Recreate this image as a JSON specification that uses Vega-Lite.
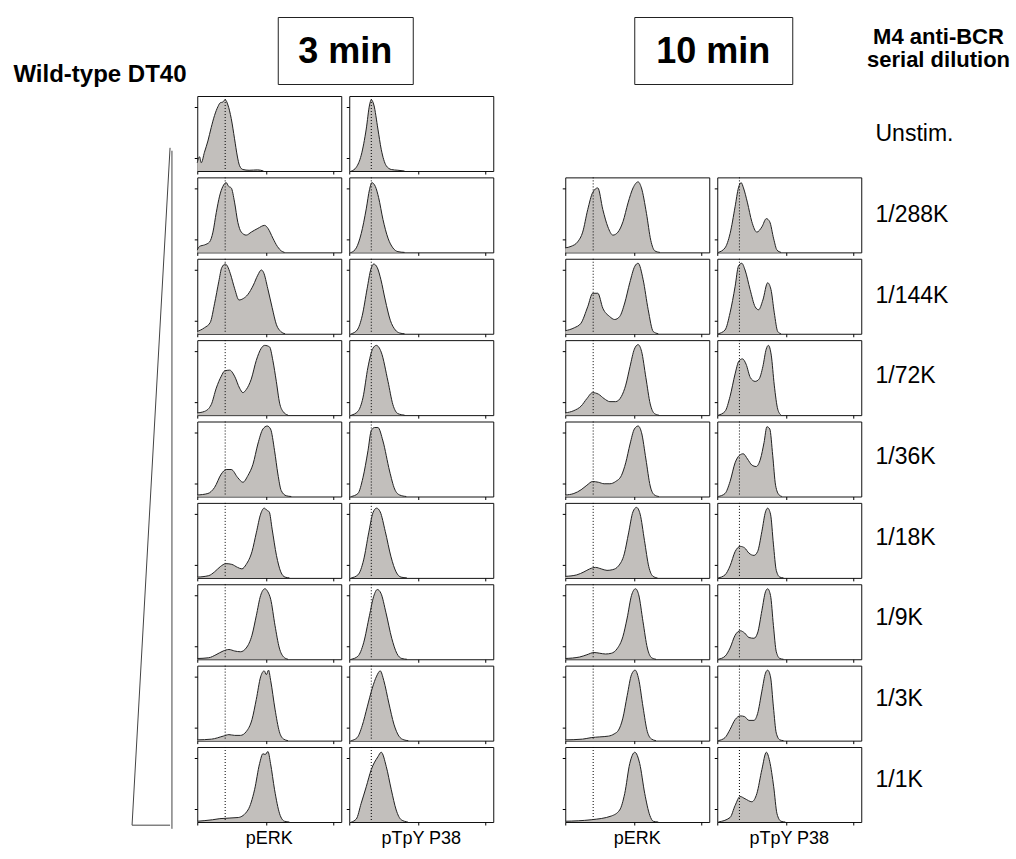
{
"$schema":"https://vega.github.io/schema/vega-lite/v6.json",
"background":"white",
"padding":{"left":0,"top":16,"right":0,"bottom":0},
"spacing":3,
"config":{"view":{"stroke":null},"font":"Liberation Sans","axis":{"grid":false,"labels":false,"title":null,"domain":false,"ticks":true,"tickSize":3,"tickColor":"#000","tickWidth":1},"header":{"labelFont":"Liberation Sans"}},
"datasets":{
"panels":[
{"p":"3E1","time":"3 min","marker":"pERK","dose":"Unstim.","ref":19.4},
{"p":"3E2","time":"3 min","marker":"pERK","dose":"1/288K","ref":19.4},
{"p":"3E3","time":"3 min","marker":"pERK","dose":"1/144K","ref":19.4},
{"p":"3E4","time":"3 min","marker":"pERK","dose":"1/72K","ref":19.4},
{"p":"3E5","time":"3 min","marker":"pERK","dose":"1/36K","ref":19.4},
{"p":"3E6","time":"3 min","marker":"pERK","dose":"1/18K","ref":19.4},
{"p":"3E7","time":"3 min","marker":"pERK","dose":"1/9K","ref":19.4},
{"p":"3E8","time":"3 min","marker":"pERK","dose":"1/3K","ref":19.4},
{"p":"3E9","time":"3 min","marker":"pERK","dose":"1/1K","ref":19.4},
{"p":"3P1","time":"3 min","marker":"pTpY P38","dose":"Unstim.","ref":15.3},
{"p":"3P2","time":"3 min","marker":"pTpY P38","dose":"1/288K","ref":15.3},
{"p":"3P3","time":"3 min","marker":"pTpY P38","dose":"1/144K","ref":15.3},
{"p":"3P4","time":"3 min","marker":"pTpY P38","dose":"1/72K","ref":15.3},
{"p":"3P5","time":"3 min","marker":"pTpY P38","dose":"1/36K","ref":15.3},
{"p":"3P6","time":"3 min","marker":"pTpY P38","dose":"1/18K","ref":15.3},
{"p":"3P7","time":"3 min","marker":"pTpY P38","dose":"1/9K","ref":15.3},
{"p":"3P8","time":"3 min","marker":"pTpY P38","dose":"1/3K","ref":15.3},
{"p":"3P9","time":"3 min","marker":"pTpY P38","dose":"1/1K","ref":15.3},
{"p":"10E2","time":"10 min","marker":"pERK","dose":"1/288K","ref":19.4},
{"p":"10E3","time":"10 min","marker":"pERK","dose":"1/144K","ref":19.4},
{"p":"10E4","time":"10 min","marker":"pERK","dose":"1/72K","ref":19.4},
{"p":"10E5","time":"10 min","marker":"pERK","dose":"1/36K","ref":19.4},
{"p":"10E6","time":"10 min","marker":"pERK","dose":"1/18K","ref":19.4},
{"p":"10E7","time":"10 min","marker":"pERK","dose":"1/9K","ref":19.4},
{"p":"10E8","time":"10 min","marker":"pERK","dose":"1/3K","ref":19.4},
{"p":"10E9","time":"10 min","marker":"pERK","dose":"1/1K","ref":19.4},
{"p":"10P2","time":"10 min","marker":"pTpY P38","dose":"1/288K","ref":15.4},
{"p":"10P3","time":"10 min","marker":"pTpY P38","dose":"1/144K","ref":15.4},
{"p":"10P4","time":"10 min","marker":"pTpY P38","dose":"1/72K","ref":15.4},
{"p":"10P5","time":"10 min","marker":"pTpY P38","dose":"1/36K","ref":15.4},
{"p":"10P6","time":"10 min","marker":"pTpY P38","dose":"1/18K","ref":15.4},
{"p":"10P7","time":"10 min","marker":"pTpY P38","dose":"1/9K","ref":15.4},
{"p":"10P8","time":"10 min","marker":"pTpY P38","dose":"1/3K","ref":15.4},
{"p":"10P9","time":"10 min","marker":"pTpY P38","dose":"1/1K","ref":15.4}
],
"curves":[
{"p":"3E1","x":0,"y":11},{"p":"3E1","x":1.6,"y":19},{"p":"3E1","x":2.8,"y":11},{"p":"3E1","x":5,"y":25},{"p":"3E1","x":7.4,"y":40},{"p":"3E1","x":9.7,"y":58},{"p":"3E1","x":12,"y":74},{"p":"3E1","x":14.4,"y":86},{"p":"3E1","x":16,"y":91},{"p":"3E1","x":17.8,"y":92},{"p":"3E1","x":19.4,"y":95},{"p":"3E1","x":21.3,"y":88},{"p":"3E1","x":23.6,"y":70},{"p":"3E1","x":25.9,"y":43},{"p":"3E1","x":27.8,"y":20},{"p":"3E1","x":29.4,"y":7},{"p":"3E1","x":31.7,"y":2},{"p":"3E1","x":36,"y":1},{"p":"3E1","x":42,"y":1.5},{"p":"3E1","x":46,"y":0},
{"p":"3E2","x":0,"y":3},{"p":"3E2","x":1.6,"y":8},{"p":"3E2","x":5.1,"y":10},{"p":"3E2","x":8.6,"y":14},{"p":"3E2","x":10.9,"y":27},{"p":"3E2","x":13.2,"y":53},{"p":"3E2","x":15.5,"y":75},{"p":"3E2","x":17.8,"y":88},{"p":"3E2","x":20.1,"y":93},{"p":"3E2","x":21.8,"y":88},{"p":"3E2","x":23.6,"y":86},{"p":"3E2","x":25.9,"y":67},{"p":"3E2","x":28.2,"y":40},{"p":"3E2","x":30.6,"y":27},{"p":"3E2","x":34,"y":23},{"p":"3E2","x":37.5,"y":27},{"p":"3E2","x":42.1,"y":32},{"p":"3E2","x":46.8,"y":36},{"p":"3E2","x":49.1,"y":32},{"p":"3E2","x":52.5,"y":19},{"p":"3E2","x":55.6,"y":8},{"p":"3E2","x":58.3,"y":2},{"p":"3E2","x":60.6,"y":0},
{"p":"3E3","x":0,"y":3},{"p":"3E3","x":5,"y":8},{"p":"3E3","x":9,"y":15},{"p":"3E3","x":12,"y":40},{"p":"3E3","x":15,"y":70},{"p":"3E3","x":17,"y":88},{"p":"3E3","x":19.5,"y":93},{"p":"3E3","x":21,"y":90},{"p":"3E3","x":23,"y":80},{"p":"3E3","x":26,"y":60},{"p":"3E3","x":29,"y":45},{"p":"3E3","x":32,"y":47},{"p":"3E3","x":35,"y":52},{"p":"3E3","x":39,"y":65},{"p":"3E3","x":42,"y":78},{"p":"3E3","x":44.5,"y":85},{"p":"3E3","x":46,"y":82},{"p":"3E3","x":49,"y":60},{"p":"3E3","x":52,"y":35},{"p":"3E3","x":55,"y":12},{"p":"3E3","x":58,"y":3},{"p":"3E3","x":61,"y":0},
{"p":"3E4","x":0,"y":3},{"p":"3E4","x":5.1,"y":5},{"p":"3E4","x":9.7,"y":14},{"p":"3E4","x":13.2,"y":36},{"p":"3E4","x":16.7,"y":52},{"p":"3E4","x":19,"y":59},{"p":"3E4","x":22.5,"y":60},{"p":"3E4","x":25.9,"y":52},{"p":"3E4","x":29.4,"y":36},{"p":"3E4","x":31.7,"y":30},{"p":"3E4","x":34,"y":34},{"p":"3E4","x":37.5,"y":48},{"p":"3E4","x":41,"y":73},{"p":"3E4","x":44.4,"y":89},{"p":"3E4","x":46.8,"y":93},{"p":"3E4","x":50.2,"y":91},{"p":"3E4","x":52.5,"y":73},{"p":"3E4","x":54.9,"y":45},{"p":"3E4","x":57.2,"y":16},{"p":"3E4","x":59.5,"y":5},{"p":"3E4","x":63,"y":0},
{"p":"3E5","x":0,"y":2},{"p":"3E5","x":7.4,"y":4},{"p":"3E5","x":12,"y":12},{"p":"3E5","x":16.7,"y":30},{"p":"3E5","x":20.1,"y":36},{"p":"3E5","x":23.6,"y":36},{"p":"3E5","x":28.2,"y":25},{"p":"3E5","x":31.7,"y":19},{"p":"3E5","x":35.2,"y":28},{"p":"3E5","x":38.7,"y":43},{"p":"3E5","x":42.1,"y":70},{"p":"3E5","x":45.6,"y":90},{"p":"3E5","x":48.6,"y":94},{"p":"3E5","x":50.9,"y":90},{"p":"3E5","x":53.7,"y":61},{"p":"3E5","x":56,"y":30},{"p":"3E5","x":58.3,"y":8},{"p":"3E5","x":61.8,"y":1},{"p":"3E5","x":65.3,"y":0},
{"p":"3E6","x":0,"y":1},{"p":"3E6","x":8,"y":3},{"p":"3E6","x":12,"y":8},{"p":"3E6","x":16,"y":15},{"p":"3E6","x":20,"y":19},{"p":"3E6","x":24,"y":18},{"p":"3E6","x":28,"y":14},{"p":"3E6","x":31,"y":12},{"p":"3E6","x":34,"y":18},{"p":"3E6","x":38,"y":35},{"p":"3E6","x":41,"y":60},{"p":"3E6","x":44,"y":85},{"p":"3E6","x":46.5,"y":93},{"p":"3E6","x":48.5,"y":90},{"p":"3E6","x":50,"y":88},{"p":"3E6","x":52,"y":65},{"p":"3E6","x":55,"y":30},{"p":"3E6","x":58,"y":8},{"p":"3E6","x":61,"y":1},{"p":"3E6","x":64,"y":0},
{"p":"3E7","x":0,"y":1},{"p":"3E7","x":8,"y":2},{"p":"3E7","x":13,"y":6},{"p":"3E7","x":18,"y":11},{"p":"3E7","x":22,"y":13},{"p":"3E7","x":26,"y":11},{"p":"3E7","x":30,"y":10},{"p":"3E7","x":34,"y":15},{"p":"3E7","x":38,"y":32},{"p":"3E7","x":41,"y":58},{"p":"3E7","x":44,"y":85},{"p":"3E7","x":47,"y":94},{"p":"3E7","x":49,"y":90},{"p":"3E7","x":51,"y":80},{"p":"3E7","x":54,"y":45},{"p":"3E7","x":57,"y":15},{"p":"3E7","x":60,"y":3},{"p":"3E7","x":63,"y":0},
{"p":"3E8","x":0,"y":1},{"p":"3E8","x":10,"y":2},{"p":"3E8","x":18,"y":6},{"p":"3E8","x":22,"y":8},{"p":"3E8","x":26,"y":7},{"p":"3E8","x":30,"y":7},{"p":"3E8","x":34,"y":12},{"p":"3E8","x":38,"y":28},{"p":"3E8","x":41,"y":55},{"p":"3E8","x":44,"y":85},{"p":"3E8","x":46.5,"y":93},{"p":"3E8","x":48,"y":88},{"p":"3E8","x":49.5,"y":94},{"p":"3E8","x":51,"y":80},{"p":"3E8","x":54,"y":42},{"p":"3E8","x":57,"y":12},{"p":"3E8","x":60,"y":2},{"p":"3E8","x":63,"y":0},
{"p":"3E9","x":0,"y":1},{"p":"3E9","x":10.6,"y":3},{"p":"3E9","x":15.7,"y":4.5},{"p":"3E9","x":28.5,"y":6},{"p":"3E9","x":35.2,"y":16},{"p":"3E9","x":39.8,"y":43},{"p":"3E9","x":43.3,"y":78},{"p":"3E9","x":45.6,"y":91},{"p":"3E9","x":47.2,"y":90},{"p":"3E9","x":49.1,"y":94},{"p":"3E9","x":50.9,"y":78},{"p":"3E9","x":53.7,"y":43},{"p":"3E9","x":57.2,"y":11},{"p":"3E9","x":60.6,"y":1},{"p":"3E9","x":64,"y":0},
{"p":"3P1","x":1.4,"y":0},{"p":"3P1","x":4.9,"y":5},{"p":"3P1","x":8.3,"y":21},{"p":"3P1","x":11.8,"y":56},{"p":"3P1","x":14.1,"y":88},{"p":"3P1","x":15.3,"y":95},{"p":"3P1","x":17.1,"y":88},{"p":"3P1","x":19.9,"y":56},{"p":"3P1","x":22.2,"y":29},{"p":"3P1","x":25.7,"y":7},{"p":"3P1","x":29.2,"y":2},{"p":"3P1","x":33.8,"y":1},{"p":"3P1","x":38.4,"y":0},
{"p":"3P2","x":1.4,"y":0},{"p":"3P2","x":4.9,"y":6},{"p":"3P2","x":8.3,"y":25},{"p":"3P2","x":11.8,"y":58},{"p":"3P2","x":14.1,"y":84},{"p":"3P2","x":15.7,"y":93},{"p":"3P2","x":18.1,"y":88},{"p":"3P2","x":20.4,"y":73},{"p":"3P2","x":23.4,"y":44},{"p":"3P2","x":26.9,"y":19},{"p":"3P2","x":30.3,"y":6},{"p":"3P2","x":33.8,"y":1},{"p":"3P2","x":38.4,"y":0},
{"p":"3P3","x":1.4,"y":0},{"p":"3P3","x":5.5,"y":5},{"p":"3P3","x":9,"y":24},{"p":"3P3","x":12.4,"y":60},{"p":"3P3","x":15,"y":86},{"p":"3P3","x":17,"y":93},{"p":"3P3","x":19.5,"y":88},{"p":"3P3","x":22,"y":72},{"p":"3P3","x":25,"y":45},{"p":"3P3","x":28.5,"y":18},{"p":"3P3","x":32,"y":5},{"p":"3P3","x":35,"y":1},{"p":"3P3","x":38.4,"y":0},
{"p":"3P4","x":1.4,"y":0},{"p":"3P4","x":6,"y":5},{"p":"3P4","x":9.5,"y":23},{"p":"3P4","x":13,"y":64},{"p":"3P4","x":16.4,"y":89},{"p":"3P4","x":18.8,"y":93},{"p":"3P4","x":22.2,"y":84},{"p":"3P4","x":26.9,"y":45},{"p":"3P4","x":30.3,"y":14},{"p":"3P4","x":33.8,"y":2},{"p":"3P4","x":38.4,"y":0},
{"p":"3P5","x":1.4,"y":0},{"p":"3P5","x":6,"y":4},{"p":"3P5","x":9.5,"y":25},{"p":"3P5","x":13,"y":61},{"p":"3P5","x":15.3,"y":88},{"p":"3P5","x":17.6,"y":92},{"p":"3P5","x":19.9,"y":92},{"p":"3P5","x":23.4,"y":74},{"p":"3P5","x":28,"y":34},{"p":"3P5","x":31.5,"y":10},{"p":"3P5","x":35,"y":2},{"p":"3P5","x":39.6,"y":0},
{"p":"3P6","x":1.4,"y":0},{"p":"3P6","x":6,"y":4},{"p":"3P6","x":10,"y":24},{"p":"3P6","x":13.5,"y":60},{"p":"3P6","x":16.5,"y":87},{"p":"3P6","x":19,"y":93},{"p":"3P6","x":21.5,"y":88},{"p":"3P6","x":25,"y":62},{"p":"3P6","x":29,"y":28},{"p":"3P6","x":32.5,"y":8},{"p":"3P6","x":36,"y":1},{"p":"3P6","x":40,"y":0},
{"p":"3P7","x":1.4,"y":0},{"p":"3P7","x":6,"y":4},{"p":"3P7","x":10,"y":22},{"p":"3P7","x":14,"y":58},{"p":"3P7","x":17,"y":84},{"p":"3P7","x":19.5,"y":93},{"p":"3P7","x":22,"y":88},{"p":"3P7","x":25.5,"y":62},{"p":"3P7","x":29.5,"y":28},{"p":"3P7","x":33,"y":8},{"p":"3P7","x":36.5,"y":1},{"p":"3P7","x":40,"y":0},
{"p":"3P8","x":1.4,"y":0},{"p":"3P8","x":5.5,"y":4},{"p":"3P8","x":9,"y":20},{"p":"3P8","x":12.5,"y":45},{"p":"3P8","x":16,"y":70},{"p":"3P8","x":19,"y":86},{"p":"3P8","x":21.5,"y":93},{"p":"3P8","x":24,"y":80},{"p":"3P8","x":27.5,"y":50},{"p":"3P8","x":31,"y":22},{"p":"3P8","x":34.5,"y":6},{"p":"3P8","x":38,"y":1},{"p":"3P8","x":41,"y":0},
{"p":"3P9","x":1.4,"y":0},{"p":"3P9","x":4.9,"y":4},{"p":"3P9","x":8.3,"y":25},{"p":"3P9","x":11.8,"y":47},{"p":"3P9","x":15.3,"y":70},{"p":"3P9","x":19.9,"y":87},{"p":"3P9","x":22.2,"y":93},{"p":"3P9","x":25.7,"y":74},{"p":"3P9","x":29.2,"y":43},{"p":"3P9","x":32.6,"y":16},{"p":"3P9","x":36.1,"y":3},{"p":"3P9","x":40.7,"y":0},
{"p":"10E2","x":0,"y":6},{"p":"10E2","x":4,"y":8},{"p":"10E2","x":8.6,"y":14},{"p":"10E2","x":12.1,"y":27},{"p":"10E2","x":15.6,"y":57},{"p":"10E2","x":19.1,"y":80},{"p":"10E2","x":22.6,"y":86},{"p":"10E2","x":26.1,"y":57},{"p":"10E2","x":29.6,"y":34},{"p":"10E2","x":33.1,"y":23},{"p":"10E2","x":36.6,"y":27},{"p":"10E2","x":40.1,"y":41},{"p":"10E2","x":43.6,"y":66},{"p":"10E2","x":47.1,"y":86},{"p":"10E2","x":50.6,"y":94},{"p":"10E2","x":52.9,"y":86},{"p":"10E2","x":56.4,"y":52},{"p":"10E2","x":59.4,"y":16},{"p":"10E2","x":62.2,"y":2},{"p":"10E2","x":65.7,"y":0},
{"p":"10E3","x":0,"y":4},{"p":"10E3","x":6.3,"y":8},{"p":"10E3","x":10.9,"y":14},{"p":"10E3","x":15.6,"y":36},{"p":"10E3","x":19.1,"y":54},{"p":"10E3","x":22.6,"y":54},{"p":"10E3","x":26.1,"y":34},{"p":"10E3","x":30.8,"y":23},{"p":"10E3","x":34.3,"y":19},{"p":"10E3","x":37.8,"y":23},{"p":"10E3","x":41.3,"y":41},{"p":"10E3","x":44.8,"y":68},{"p":"10E3","x":48.3,"y":90},{"p":"10E3","x":50.6,"y":94},{"p":"10E3","x":54.1,"y":72},{"p":"10E3","x":57.6,"y":32},{"p":"10E3","x":61.1,"y":3},{"p":"10E3","x":64.6,"y":0},
{"p":"10E4","x":0,"y":3},{"p":"10E4","x":6,"y":6},{"p":"10E4","x":11,"y":12},{"p":"10E4","x":15,"y":22},{"p":"10E4","x":19,"y":30},{"p":"10E4","x":23,"y":28},{"p":"10E4","x":27,"y":22},{"p":"10E4","x":31,"y":18},{"p":"10E4","x":35,"y":18},{"p":"10E4","x":39,"y":25},{"p":"10E4","x":42,"y":40},{"p":"10E4","x":45,"y":65},{"p":"10E4","x":48,"y":88},{"p":"10E4","x":50.6,"y":94},{"p":"10E4","x":53,"y":85},{"p":"10E4","x":56,"y":50},{"p":"10E4","x":59,"y":15},{"p":"10E4","x":62,"y":2},{"p":"10E4","x":65,"y":0},
{"p":"10E5","x":0,"y":2},{"p":"10E5","x":6,"y":4},{"p":"10E5","x":11,"y":9},{"p":"10E5","x":15,"y":15},{"p":"10E5","x":19,"y":20},{"p":"10E5","x":23,"y":19},{"p":"10E5","x":27,"y":17},{"p":"10E5","x":31,"y":17},{"p":"10E5","x":35,"y":20},{"p":"10E5","x":39,"y":28},{"p":"10E5","x":42,"y":45},{"p":"10E5","x":45,"y":70},{"p":"10E5","x":48,"y":90},{"p":"10E5","x":50.6,"y":94},{"p":"10E5","x":53,"y":85},{"p":"10E5","x":56,"y":50},{"p":"10E5","x":59,"y":14},{"p":"10E5","x":62,"y":2},{"p":"10E5","x":65,"y":0},
{"p":"10E6","x":0,"y":2},{"p":"10E6","x":8,"y":4},{"p":"10E6","x":13,"y":8},{"p":"10E6","x":17,"y":12},{"p":"10E6","x":21,"y":14},{"p":"10E6","x":25,"y":12},{"p":"10E6","x":29,"y":10},{"p":"10E6","x":33,"y":11},{"p":"10E6","x":37,"y":16},{"p":"10E6","x":41,"y":32},{"p":"10E6","x":44,"y":60},{"p":"10E6","x":47,"y":88},{"p":"10E6","x":49.5,"y":94},{"p":"10E6","x":52,"y":85},{"p":"10E6","x":55,"y":50},{"p":"10E6","x":58,"y":15},{"p":"10E6","x":61,"y":2},{"p":"10E6","x":64,"y":0},
{"p":"10E7","x":0,"y":1},{"p":"10E7","x":10,"y":3},{"p":"10E7","x":15,"y":6},{"p":"10E7","x":20,"y":9},{"p":"10E7","x":24,"y":8},{"p":"10E7","x":28,"y":7},{"p":"10E7","x":32,"y":8},{"p":"10E7","x":36,"y":14},{"p":"10E7","x":40,"y":30},{"p":"10E7","x":43,"y":55},{"p":"10E7","x":46,"y":85},{"p":"10E7","x":48.8,"y":94},{"p":"10E7","x":51,"y":86},{"p":"10E7","x":54,"y":50},{"p":"10E7","x":57,"y":15},{"p":"10E7","x":60,"y":2},{"p":"10E7","x":63,"y":0},
{"p":"10E8","x":0,"y":1},{"p":"10E8","x":12,"y":2},{"p":"10E8","x":18,"y":4},{"p":"10E8","x":24,"y":5},{"p":"10E8","x":30,"y":6},{"p":"10E8","x":34,"y":9},{"p":"10E8","x":37,"y":14},{"p":"10E8","x":40,"y":30},{"p":"10E8","x":43,"y":60},{"p":"10E8","x":46,"y":88},{"p":"10E8","x":48.5,"y":94},{"p":"10E8","x":51,"y":82},{"p":"10E8","x":54,"y":45},{"p":"10E8","x":57,"y":12},{"p":"10E8","x":60,"y":2},{"p":"10E8","x":63,"y":0},
{"p":"10E9","x":0,"y":1},{"p":"10E9","x":18,"y":3},{"p":"10E9","x":32,"y":8},{"p":"10E9","x":37.8,"y":16},{"p":"10E9","x":41.3,"y":38},{"p":"10E9","x":44.8,"y":78},{"p":"10E9","x":48.3,"y":93},{"p":"10E9","x":51.7,"y":78},{"p":"10E9","x":55.2,"y":38},{"p":"10E9","x":58.7,"y":9},{"p":"10E9","x":61.1,"y":1},{"p":"10E9","x":64.6,"y":0},
{"p":"10P2","x":0.7,"y":0},{"p":"10P2","x":5.4,"y":6},{"p":"10P2","x":8.9,"y":25},{"p":"10P2","x":12.4,"y":61},{"p":"10P2","x":14.7,"y":86},{"p":"10P2","x":16.6,"y":93},{"p":"10P2","x":18.2,"y":86},{"p":"10P2","x":21,"y":66},{"p":"10P2","x":24,"y":41},{"p":"10P2","x":27.5,"y":27},{"p":"10P2","x":31,"y":34},{"p":"10P2","x":34.1,"y":45},{"p":"10P2","x":36.4,"y":41},{"p":"10P2","x":39.2,"y":18},{"p":"10P2","x":41.5,"y":3},{"p":"10P2","x":44.3,"y":0},
{"p":"10P3","x":0.7,"y":0},{"p":"10P3","x":5.4,"y":5},{"p":"10P3","x":8.9,"y":28},{"p":"10P3","x":12.4,"y":63},{"p":"10P3","x":14.7,"y":90},{"p":"10P3","x":17,"y":94},{"p":"10P3","x":19.3,"y":85},{"p":"10P3","x":22.8,"y":59},{"p":"10P3","x":26.3,"y":36},{"p":"10P3","x":28.7,"y":32},{"p":"10P3","x":31.7,"y":45},{"p":"10P3","x":35,"y":68},{"p":"10P3","x":37.3,"y":59},{"p":"10P3","x":39.6,"y":28},{"p":"10P3","x":42,"y":3},{"p":"10P3","x":44.3,"y":0},
{"p":"10P4","x":0.7,"y":0},{"p":"10P4","x":5.4,"y":5},{"p":"10P4","x":8.9,"y":25},{"p":"10P4","x":12.4,"y":55},{"p":"10P4","x":15,"y":72},{"p":"10P4","x":17.5,"y":75},{"p":"10P4","x":20,"y":68},{"p":"10P4","x":23,"y":50},{"p":"10P4","x":26.3,"y":45},{"p":"10P4","x":29,"y":48},{"p":"10P4","x":31.7,"y":65},{"p":"10P4","x":34,"y":88},{"p":"10P4","x":35.5,"y":93},{"p":"10P4","x":37.5,"y":80},{"p":"10P4","x":39.6,"y":40},{"p":"10P4","x":42,"y":8},{"p":"10P4","x":44.3,"y":0},
{"p":"10P5","x":0.7,"y":0},{"p":"10P5","x":5.4,"y":4},{"p":"10P5","x":8.9,"y":20},{"p":"10P5","x":12.4,"y":45},{"p":"10P5","x":15.5,"y":55},{"p":"10P5","x":18,"y":57},{"p":"10P5","x":21,"y":50},{"p":"10P5","x":24,"y":42},{"p":"10P5","x":27,"y":40},{"p":"10P5","x":30,"y":50},{"p":"10P5","x":32.5,"y":72},{"p":"10P5","x":34.5,"y":93},{"p":"10P5","x":36.5,"y":90},{"p":"10P5","x":38.5,"y":55},{"p":"10P5","x":40.5,"y":15},{"p":"10P5","x":43,"y":2},{"p":"10P5","x":45,"y":0},
{"p":"10P6","x":0.7,"y":0},{"p":"10P6","x":5.4,"y":4},{"p":"10P6","x":8.9,"y":16},{"p":"10P6","x":12.4,"y":35},{"p":"10P6","x":16,"y":42},{"p":"10P6","x":19,"y":40},{"p":"10P6","x":22,"y":33},{"p":"10P6","x":25.5,"y":30},{"p":"10P6","x":28,"y":35},{"p":"10P6","x":31,"y":62},{"p":"10P6","x":33.5,"y":88},{"p":"10P6","x":35,"y":93},{"p":"10P6","x":37,"y":85},{"p":"10P6","x":39,"y":45},{"p":"10P6","x":41,"y":10},{"p":"10P6","x":43.5,"y":1},{"p":"10P6","x":46,"y":0},
{"p":"10P7","x":0.7,"y":0},{"p":"10P7","x":5.4,"y":4},{"p":"10P7","x":8.9,"y":15},{"p":"10P7","x":12.4,"y":32},{"p":"10P7","x":16,"y":38},{"p":"10P7","x":19,"y":35},{"p":"10P7","x":22,"y":29},{"p":"10P7","x":25.5,"y":28},{"p":"10P7","x":28,"y":35},{"p":"10P7","x":31,"y":65},{"p":"10P7","x":33.5,"y":90},{"p":"10P7","x":35,"y":94},{"p":"10P7","x":37,"y":85},{"p":"10P7","x":39,"y":45},{"p":"10P7","x":41,"y":10},{"p":"10P7","x":43.5,"y":1},{"p":"10P7","x":46,"y":0},
{"p":"10P8","x":0.7,"y":0},{"p":"10P8","x":5.4,"y":4},{"p":"10P8","x":8.9,"y":15},{"p":"10P8","x":12.4,"y":28},{"p":"10P8","x":16,"y":33},{"p":"10P8","x":19,"y":32},{"p":"10P8","x":22,"y":27},{"p":"10P8","x":25.5,"y":27},{"p":"10P8","x":28,"y":36},{"p":"10P8","x":31,"y":66},{"p":"10P8","x":33.5,"y":90},{"p":"10P8","x":35,"y":94},{"p":"10P8","x":37,"y":85},{"p":"10P8","x":39,"y":45},{"p":"10P8","x":41,"y":10},{"p":"10P8","x":43.5,"y":1},{"p":"10P8","x":46,"y":0},
{"p":"10P9","x":0.7,"y":0},{"p":"10P9","x":8.9,"y":6},{"p":"10P9","x":12.4,"y":22},{"p":"10P9","x":15.9,"y":34},{"p":"10P9","x":19.3,"y":31},{"p":"10P9","x":24,"y":27},{"p":"10P9","x":27.5,"y":38},{"p":"10P9","x":31,"y":70},{"p":"10P9","x":34.1,"y":93},{"p":"10P9","x":36.4,"y":81},{"p":"10P9","x":39.2,"y":47},{"p":"10P9","x":41.5,"y":11},{"p":"10P9","x":44.3,"y":1},{"p":"10P9","x":47.3,"y":0}
],
"wedge":[
{"part":"diagonal","x":0.895,"y":0.93,"x2":0.695,"y2":-0.003},
{"part":"vertical","x":0.905,"y":0.926,"x2":0.905,"y2":-0.008},
{"part":"base","x":0.695,"y":-0.003,"x2":0.895,"y2":-0.003}
],
"doses":[{"dose":"Unstim."},{"dose":"1/288K"},{"dose":"1/144K"},{"dose":"1/72K"},{"dose":"1/36K"},{"dose":"1/18K"},{"dose":"1/9K"},{"dose":"1/3K"},{"dose":"1/1K"}]
},
"hconcat":[
{"vconcat":[
 {"width":190,"height":67,"data":{"values":[{"label":"Wild-type DT40"}]},"mark":{"type":"text","fontSize":24,"fontWeight":"bold","align":"center","baseline":"middle","color":"#000"},"encoding":{"text":{"field":"label"},"x":{"datum":0.526,"type":"quantitative","scale":{"domain":[0,1]},"axis":null},"y":{"datum":0.14,"type":"quantitative","scale":{"domain":[0,1]},"axis":null}}},
 {"width":190,"height":726,"data":{"name":"wedge"},"mark":{"type":"rule","color":"#444","strokeWidth":1},"encoding":{"x":{"field":"x","type":"quantitative","scale":{"domain":[0,1],"nice":false,"zero":false},"axis":null},"y":{"field":"y","type":"quantitative","scale":{"domain":[0,1],"nice":false,"zero":false},"axis":null},"x2":{"field":"x2"},"y2":{"field":"y2"}}}
],"spacing":10},
{"vconcat":[
 {"width":135,"height":67,"view":{"stroke":"#222","strokeWidth":1},"data":{"values":[{"label":"3 min"}]},"mark":{"type":"text","fontSize":36,"fontWeight":"bold","align":"center","baseline":"middle","dy":1,"color":"#000"},"encoding":{"text":{"field":"label"}}},
 {"data":{"name":"curves"},
  "transform":[{"lookup":"p","from":{"data":{"name":"panels"},"key":"p","fields":["time","marker","dose","ref"]}},{"filter":"datum.time === '3 min'"}],
  "facet":{"row":{"field":"dose","type":"nominal","sort":["Unstim.","1/288K","1/144K","1/72K","1/36K","1/18K","1/9K","1/3K","1/1K"],"header":null},
           "column":{"field":"marker","type":"nominal","sort":["pERK","pTpY P38"],"header":{"title":null,"labelOrient":"bottom","labelFontSize":18,"labelPadding":8,"labelColor":"#000"}}},
  "spacing":{"row":6.375,"column":8},
  "bounds":"flush",
  "resolve":{"axis":{"x":"independent","y":"independent"}},
  "spec":{"width":144,"height":75,"view":{"stroke":"#111","strokeWidth":1},
   "layer":[
    {"mark":{"type":"area","interpolate":"monotone","color":"#c2bfbc"},
     "encoding":{"x":{"field":"x","type":"quantitative","scale":{"domain":[0,100],"nice":false,"zero":false},"axis":{"values":[0,7.53,11.93,15.05,17.47,19.45,21.13,22.58,23.86,25,32.53,36.93,40.05,42.47,44.45,46.13,47.58,48.86,50,57.53,61.93,65.05,67.47,69.45,71.13,72.58,73.86,75,82.53,86.93,90.05,92.47,94.45,96.13,97.58,98.86,100]}},
                 "y":{"field":"y","type":"quantitative","scale":{"domain":[0,100],"nice":false},"axis":{"values":[17,34,51,68,86]}}}},
    {"transform":[{"aggregate":[{"op":"min","field":"ref","as":"ref"}],"groupby":["time","marker","dose"]}],
     "mark":{"type":"rule","strokeDash":[1,2],"color":"#000","strokeWidth":1},
     "encoding":{"x":{"field":"ref","type":"quantitative"}}},
    {"mark":{"type":"line","interpolate":"monotone","color":"#222","strokeWidth":1},
     "encoding":{"x":{"field":"x","type":"quantitative"},"y":{"field":"y","type":"quantitative"}}}
   ]}}
],"spacing":10,"center":true},
{"width":61,"height":10,"data":{"values":[{"label":""}]},"mark":{"type":"text"},"encoding":{"text":{"field":"label"}}},
{"vconcat":[
 {"width":158,"height":67,"view":{"stroke":"#222","strokeWidth":1},"data":{"values":[{"label":"10 min"}]},"mark":{"type":"text","fontSize":36,"fontWeight":"bold","align":"center","baseline":"middle","dy":1,"color":"#000"},"encoding":{"text":{"field":"label"}}},
 {"vconcat":[
  {"width":296,"height":75,"data":{"values":[{"label":""}]},"mark":{"type":"text"},"encoding":{"text":{"field":"label"}}},
  {"data":{"name":"curves"},
   "transform":[{"lookup":"p","from":{"data":{"name":"panels"},"key":"p","fields":["time","marker","dose","ref"]}},{"filter":"datum.time === '10 min'"}],
   "facet":{"row":{"field":"dose","type":"nominal","sort":["Unstim.","1/288K","1/144K","1/72K","1/36K","1/18K","1/9K","1/3K","1/1K"],"header":null},
            "column":{"field":"marker","type":"nominal","sort":["pERK","pTpY P38"],"header":{"title":null,"labelOrient":"bottom","labelFontSize":18,"labelPadding":8,"labelColor":"#000"}}},
   "spacing":{"row":6.375,"column":8},
   "bounds":"flush",
   "resolve":{"axis":{"x":"independent","y":"independent"}},
   "spec":{"width":144,"height":75,"view":{"stroke":"#111","strokeWidth":1},
    "layer":[
     {"mark":{"type":"area","interpolate":"monotone","color":"#c2bfbc"},
      "encoding":{"x":{"field":"x","type":"quantitative","scale":{"domain":[0,100],"nice":false,"zero":false},"axis":{"values":[0,7.53,11.93,15.05,17.47,19.45,21.13,22.58,23.86,25,32.53,36.93,40.05,42.47,44.45,46.13,47.58,48.86,50,57.53,61.93,65.05,67.47,69.45,71.13,72.58,73.86,75,82.53,86.93,90.05,92.47,94.45,96.13,97.58,98.86,100]}},
                  "y":{"field":"y","type":"quantitative","scale":{"domain":[0,100],"nice":false},"axis":{"values":[17,34,51,68,86]}}}},
     {"transform":[{"aggregate":[{"op":"min","field":"ref","as":"ref"}],"groupby":["time","marker","dose"]}],
      "mark":{"type":"rule","strokeDash":[1,2],"color":"#000","strokeWidth":1},
      "encoding":{"x":{"field":"ref","type":"quantitative"}}},
     {"mark":{"type":"line","interpolate":"monotone","color":"#222","strokeWidth":1},
      "encoding":{"x":{"field":"x","type":"quantitative"},"y":{"field":"y","type":"quantitative"}}}
    ]}}
 ],"spacing":6.375}
],"spacing":10,"center":true},
{"vconcat":[
 {"width":150,"height":67,"data":{"values":[{"label":"M4 anti-BCR\nserial dilution"}]},"mark":{"type":"text","fontSize":22,"fontWeight":"bold","align":"center","baseline":"middle","lineBreak":"\n","lineHeight":23,"color":"#000"},"encoding":{"text":{"field":"label"},"x":{"datum":0.49,"type":"quantitative","scale":{"domain":[0,1]},"axis":null},"y":{"datum":0.7,"type":"quantitative","scale":{"domain":[0,1]},"axis":null}}},
 {"width":150,"height":726,"data":{"name":"doses"},"mark":{"type":"text","fontSize":23,"align":"left","baseline":"middle","color":"#000"},"encoding":{"text":{"field":"dose"},"y":{"field":"dose","type":"nominal","sort":["Unstim.","1/288K","1/144K","1/72K","1/36K","1/18K","1/9K","1/3K","1/1K"],"scale":{"paddingInner":0.0783,"paddingOuter":0},"axis":null},"x":{"datum":0.07,"type":"quantitative","scale":{"domain":[0,1]},"axis":null}}}
],"spacing":10}
]
}
